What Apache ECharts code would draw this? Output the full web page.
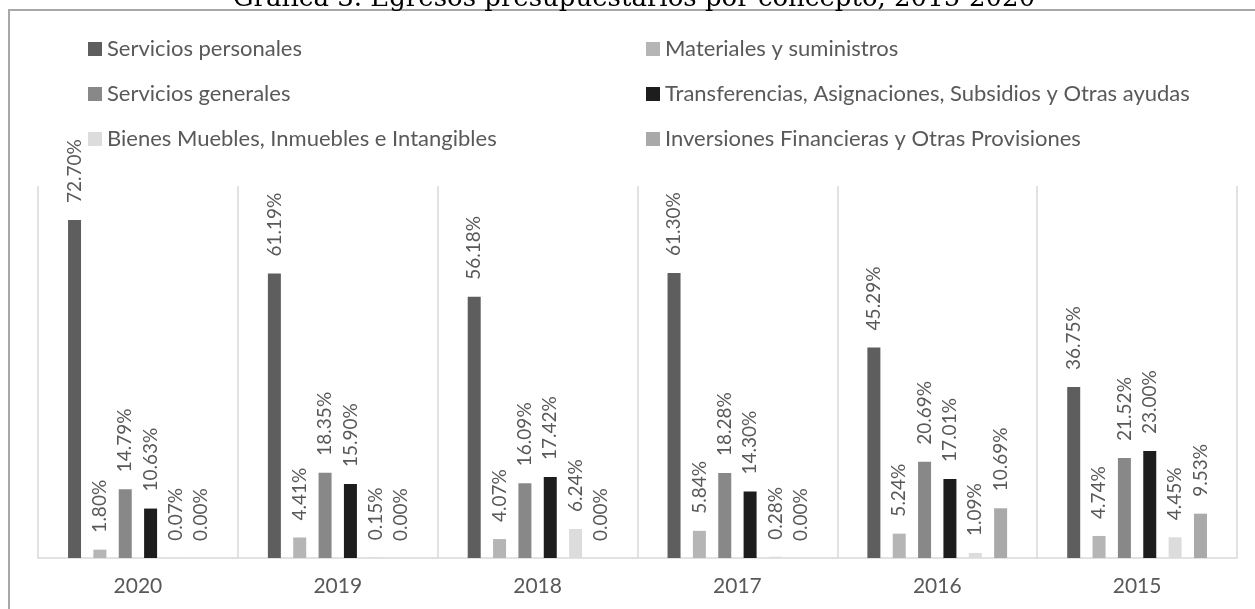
<!DOCTYPE html>
<html>
<head>
<meta charset="utf-8">
<title>Egresos presupuestarios por concepto</title>
<script src="https://cdn.jsdelivr.net/npm/echarts@6/dist/echarts.min.js"></script>
<style>
  html, body { margin: 0; padding: 0; background: #fff; }
  #main { width: 1255px; height: 609px; }
</style>
</head>
<body>
<div id="main"></div>
<script>
// datos
var years = ['2020', '2019', '2018', '2017', '2016', '2015'];
var seriesNames = [
	'Servicios personales',
	'Materiales y suministros',
	'Servicios generales',
	'Transferencias, Asignaciones, Subsidios y Otras ayudas',
	'Bienes Muebles, Inmuebles e Intangibles',
	'Inversiones Financieras y Otras Provisiones'
];
var servPersonales = [72.70, 61.19, 56.18, 61.30, 45.29, 36.75];
var materiales = [1.80, 4.41, 4.07, 5.84, 5.24, 4.74];
var servGenerales = [14.79, 18.35, 16.09, 18.28, 20.69, 21.52];
var transferencias = [10.63, 15.90, 17.42, 14.30, 17.01, 23.00];
var bienes = [0.07, 0.15, 6.24, 0.28, 1.09, 4.45];
var inversiones = [0.00, 0.00, 0.00, 0.00, 10.69, 9.53];

var colors = ['#5e5e5e', '#b5b5b5', '#888888', '#1d1d1d', '#dcdcdc', '#a9a9a9'];
var values = [servPersonales, materiales, servGenerales, transferencias, bienes, inversiones];

var myChart = echarts.init(document.getElementById('main'));

var series = values.map(function (v, i) {
	return {
		name: seriesNames[i],
		type: 'bar',
		data: v,
		barWidth: 13,
		barGap: '95%',
		itemStyle: { color: colors[i] },
		label: {
			show: true,
			position: 'top',
			rotate: 90,
			align: 'left',
			verticalAlign: 'middle',
			distance: 17,
			color: '#595959',
			fontFamily: 'Lato',
			fontSize: 19,
			formatter: function (p) {
				return p.value.toFixed(2) + '%';
			}
		}
	};
});

var legendText = { color: '#595959', fontFamily: 'Lato', fontSize: 22, lineHeight: 22 };

var option = {
	animation: false,
	color: colors,
	graphic: [
		{
			type: 'rect',
			shape: { x: 9, y: 10, width: 1300, height: 700 },
			style: { fill: 'none', stroke: '#a8a8a8', lineWidth: 2 },
			z: 0
		},
		{
			type: 'text',
			style: {
				x: 634,
				y: 12,
				text: 'Gráfica 3. Egresos presupuestarios por concepto, 2015-2020',
				fill: '#000',
				font: '26px "DejaVu Serif"',
				textAlign: 'center',
				textVerticalAlign: 'bottom'
			},
			z: 10
		}
	],
	legend: [
		{
			orient: 'vertical',
			left: 88,
			top: 38,
			padding: 0,
			itemWidth: 14,
			itemHeight: 14,
			itemGap: 23,
			icon: 'rect',
			textStyle: legendText,
			data: [seriesNames[0], seriesNames[2], seriesNames[4]]
		},
		{
			orient: 'vertical',
			left: 646,
			top: 38,
			padding: 0,
			itemWidth: 14,
			itemHeight: 14,
			itemGap: 23,
			icon: 'rect',
			textStyle: legendText,
			data: [seriesNames[1], seriesNames[3], seriesNames[5]]
		}
	],
	grid: {
		left: 38,
		right: 18,
		top: 186,
		bottom: 51,
		containLabel: false
	},
	xAxis: {
		type: 'category',
		data: years,
		axisLine: { lineStyle: { color: '#d9d9d9', width: 1.5 } },
		axisTick: { show: false },
		splitLine: { show: true, lineStyle: { color: '#d9d9d9', width: 1.5 } },
		axisLabel: {
			color: '#595959',
			fontFamily: 'Lato',
			fontSize: 21,
			margin: 18
		}
	},
	yAxis: {
		type: 'value',
		min: 0,
		max: 80,
		show: false,
		splitLine: { show: false }
	},
	series: series
};

myChart.setOption(option);
</script>
</body>
</html>
